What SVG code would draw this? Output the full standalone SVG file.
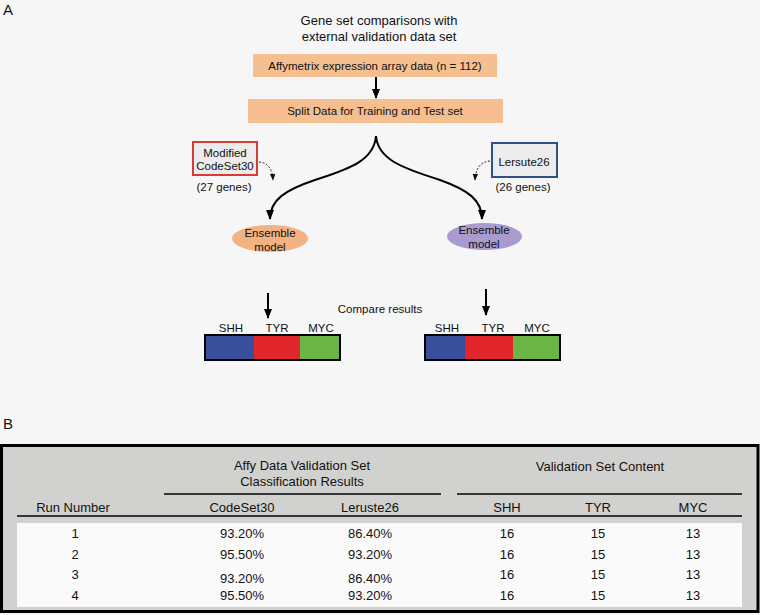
<svg xmlns="http://www.w3.org/2000/svg" width="760" height="615" viewBox="0 0 760 615">
<defs>
<style>
text{font-family:"Liberation Sans",Arial,Helvetica,sans-serif;fill:#111}
.t13{font-size:13px}
.t115{font-size:11.5px}
.mid{text-anchor:middle}
.ln{fill:none;stroke:#000;stroke-width:2}
.dot{fill:none;stroke:#222;stroke-width:1;stroke-dasharray:2 1.6}
.rule{stroke:#000;stroke-width:1.6}
</style>
<marker id="ah" markerUnits="userSpaceOnUse" markerWidth="10" markerHeight="10" viewBox="0 0 10 10" refX="9" refY="5" orient="auto">
<path d="M0,1 L10,5 L0,9 Z" fill="#000"/>
</marker>
<marker id="ahs" markerUnits="userSpaceOnUse" markerWidth="7" markerHeight="7" viewBox="0 0 10 10" refX="9" refY="5" orient="auto">
<path d="M0,1 L10,5 L0,9 Z" fill="#111"/>
</marker>
</defs>
<rect x="0" y="0" width="760" height="615" fill="#f6f6f6"/>

<text x="3" y="15" style="font-size:15px">A</text>
<text x="3" y="429" style="font-size:15px">B</text>

<g id="title">
<text class="t13 mid" x="379" y="25">Gene set comparisons with</text>
<text class="t13 mid" x="379" y="41">external validation data set</text>
</g>

<g id="affy">
<rect x="253" y="54" width="244" height="23" fill="#f5bf90"/>
<text class="t115 mid" x="375" y="70">Affymetrix expression array data (n = 112)</text>
</g>

<g id="split">
<rect x="248" y="99" width="255" height="24" fill="#f5bf90"/>
<text class="t115 mid" x="375" y="115">Split Data for Training and Test set</text>
</g>

<g id="codeset">
<rect x="193" y="142" width="64" height="33" fill="#ececec" stroke="#d93a3a" stroke-width="2"/>
<text class="t115 mid" x="225" y="157">Modified</text>
<text class="t115 mid" x="225" y="170">CodeSet30</text>
<text class="t115 mid" x="224" y="191">(27 genes)</text>
</g>

<g id="lersute">
<rect x="492" y="143" width="65" height="34" fill="#ececec" stroke="#2e5088" stroke-width="2"/>
<text class="t115 mid" x="524" y="166">Lersute26</text>
<text class="t115 mid" x="523" y="191">(26 genes)</text>
</g>

<g id="ensemble-left">
<ellipse cx="270" cy="238.5" rx="38" ry="13.5" fill="#f2b282"/>
<text class="t115 mid" x="270" y="237">Ensemble</text>
<text class="t115 mid" x="270" y="251">model</text>
</g>

<g id="ensemble-right">
<ellipse cx="484.5" cy="236.5" rx="37.5" ry="13.5" fill="#a99bd0"/>
<text class="t115 mid" x="484" y="234">Ensemble</text>
<text class="t115 mid" x="484" y="248">model</text>
</g>

<g id="compare">
<text class="t115 mid" x="380" y="313">Compare results</text>
</g>

<g id="bar-left">
<rect x="205" y="335" width="49" height="25" fill="#3a4f9b"/>
<rect x="254" y="335" width="46" height="25" fill="#e1272b"/>
<rect x="300" y="335" width="40" height="25" fill="#6bb446"/>
<rect x="205" y="335" width="135" height="25" fill="none" stroke="#000" stroke-width="2"/>
<text class="t115 mid" x="231" y="332">SHH</text>
<text class="t115 mid" x="277" y="332">TYR</text>
<text class="t115 mid" x="321" y="332">MYC</text>
</g>

<g id="bar-right">
<rect x="425" y="335" width="40" height="25" fill="#3a4f9b"/>
<rect x="465" y="335" width="48" height="25" fill="#e1272b"/>
<rect x="513" y="335" width="47" height="25" fill="#6bb446"/>
<rect x="425" y="335" width="135" height="25" fill="none" stroke="#000" stroke-width="2"/>
<text class="t115 mid" x="447" y="332">SHH</text>
<text class="t115 mid" x="493" y="332">TYR</text>
<text class="t115 mid" x="537" y="332">MYC</text>
</g>

<g id="connectors">
<line class="ln" x1="376" y1="77" x2="376" y2="98" marker-end="url(#ah)"/>
<path class="ln" d="M376,136 C374,162 345,170 315,180 C285,190 270,200 270,219" marker-end="url(#ah)"/>
<path class="ln" d="M376,136 C378,162 410,170 440,180 C468,190 482,200 482,219" marker-end="url(#ah)"/>
<path class="dot" d="M259,162 Q272,163 273,180" marker-end="url(#ahs)"/>
<path class="dot" d="M490,161 Q476,162 475,180" marker-end="url(#ahs)"/>
<line class="ln" x1="268" y1="293" x2="268" y2="318" marker-end="url(#ah)"/>
<line class="ln" x1="486" y1="289" x2="486" y2="315" marker-end="url(#ah)"/>
</g>

<g id="table">
<rect x="1.5" y="445.5" width="756.5" height="166" fill="#d1d1cf" stroke="#000" stroke-width="3"/>
<rect x="17" y="523" width="725" height="84" fill="#fafafa"/>
<text class="t13 mid" x="302" y="470">Affy Data Validation Set</text>
<text class="t13 mid" x="302" y="486">Classification Results</text>
<text class="t13 mid" x="600" y="471">Validation Set Content</text>
<line class="rule" x1="164" y1="494" x2="441" y2="494"/>
<line class="rule" x1="457" y1="494" x2="742" y2="494"/>
<text class="t13 mid" x="73" y="512">Run Number</text>
<text class="t13 mid" x="242" y="512">CodeSet30</text>
<text class="t13 mid" x="370" y="512">Leruste26</text>
<text class="t13 mid" x="507" y="512">SHH</text>
<text class="t13 mid" x="598" y="512">TYR</text>
<text class="t13 mid" x="693" y="512">MYC</text>
<line class="rule" x1="17" y1="516" x2="742" y2="516"/>

<text class="t13 mid" x="75" y="538">1</text>
<text class="t13 mid" x="242" y="538">93.20%</text>
<text class="t13 mid" x="370" y="538">86.40%</text>
<text class="t13 mid" x="507" y="538">16</text>
<text class="t13 mid" x="598" y="538">15</text>
<text class="t13 mid" x="693" y="538">13</text>

<text class="t13 mid" x="75" y="559">2</text>
<text class="t13 mid" x="242" y="559">95.50%</text>
<text class="t13 mid" x="370" y="559">93.20%</text>
<text class="t13 mid" x="507" y="559">16</text>
<text class="t13 mid" x="598" y="559">15</text>
<text class="t13 mid" x="693" y="559">13</text>

<text class="t13 mid" x="75" y="579">3</text>
<text class="t13 mid" x="242" y="583">93.20%</text>
<text class="t13 mid" x="370" y="583">86.40%</text>
<text class="t13 mid" x="507" y="579">16</text>
<text class="t13 mid" x="598" y="579">15</text>
<text class="t13 mid" x="693" y="579">13</text>

<text class="t13 mid" x="75" y="600">4</text>
<text class="t13 mid" x="242" y="600">95.50%</text>
<text class="t13 mid" x="370" y="600">93.20%</text>
<text class="t13 mid" x="507" y="600">16</text>
<text class="t13 mid" x="598" y="600">15</text>
<text class="t13 mid" x="693" y="600">13</text>
</g>
</svg>
